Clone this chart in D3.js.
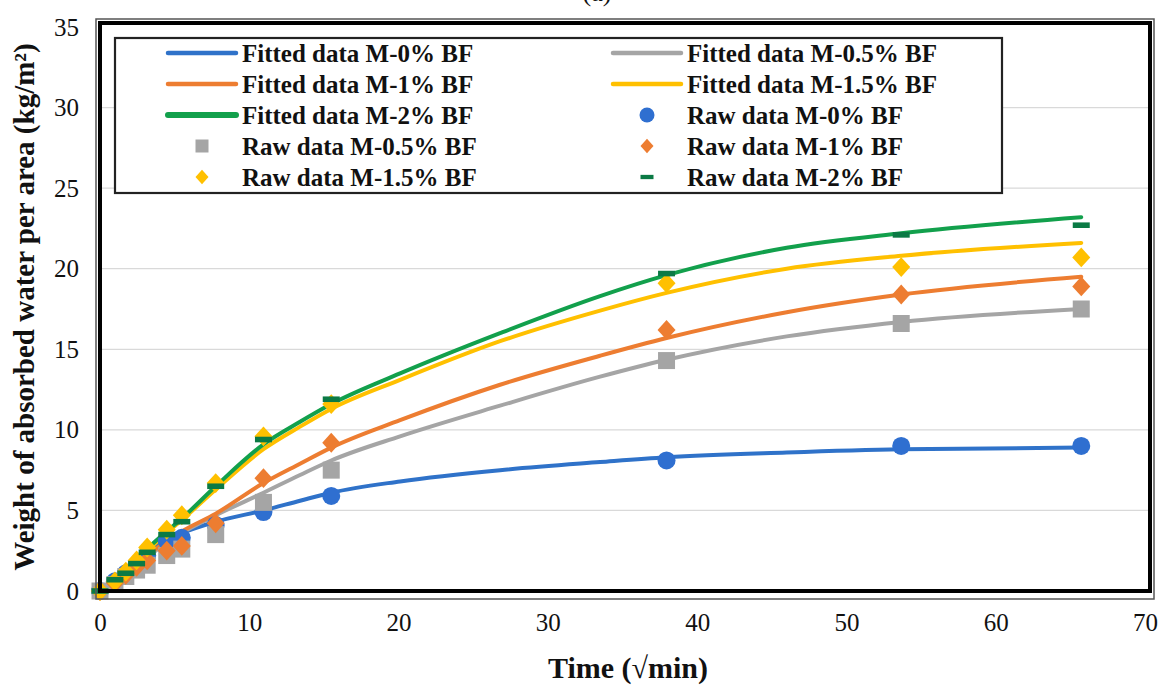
<!DOCTYPE html>
<html>
<head>
<meta charset="utf-8">
<script src="https://cdn.jsdelivr.net/npm/d3@7"></script>
<style>
  html, body { margin: 0; padding: 0; background: #fff; }
  svg { display: block; }
</style>
</head>
<body>
<svg id="chart" width="1169" height="688"></svg>
<script>
// ---- data ----
// raw measurement times (sqrt of minutes)
const timeSqrt = [0, 1, 1.73, 2.45, 3.16, 4.47, 5.48, 7.75, 10.95, 15.49, 37.95, 53.67, 65.73];
// points
const fitTime = [0, 1, 1.73, 2.45, 3.16, 4.47, 5.48, 7.75, 10.95, 13.4, 15.49, 20.1, 26.8, 33.5, 37.95, 46, 53.67, 65.73];

const fit0  = [0, 0.8, 1.4, 2.0, 2.5, 3.2, 3.6, 4.3, 5.0, 5.6, 6.1, 6.8, 7.5, 8.0, 8.3, 8.6, 8.8, 8.9];
const fit05 = [0, 0.6, 1.1, 1.6, 2.1, 3.0, 3.6, 4.7, 6.1, 7.2, 8.1, 9.6, 11.5, 13.3, 14.35, 15.8, 16.7, 17.5];
const fit1  = [0, 0.6, 1.1, 1.6, 2.2, 3.1, 3.7, 4.8, 6.7, 7.9, 8.9, 10.6, 12.8, 14.6, 15.7, 17.3, 18.4, 19.5];
const fit15 = [0, 0.7, 1.3, 1.9, 2.5, 3.6, 4.4, 6.3, 8.8, 10.2, 11.3, 13.1, 15.5, 17.4, 18.5, 20.0, 20.8, 21.6];
const fit2  = [0, 0.7, 1.3, 1.9, 2.6, 3.7, 4.5, 6.5, 9.1, 10.5, 11.6, 13.5, 16.0, 18.3, 19.6, 21.3, 22.2, 23.2];

const raw0  = [0, 0.6, 1.1, 1.6, 2.2, 3.1, 3.3, 4.1, 4.9, 5.9, 8.1, 9.0, 9.0];
const raw05 = [0, 0.4, 0.9, 1.3, 1.6, 2.2, 2.6, 3.5, 5.5, 7.5, 14.3, 16.6, 17.5];
const raw1  = [0, 0.5, 1.0, 1.5, 1.9, 2.5, 2.8, 4.2, 7.0, 9.2, 16.2, 18.4, 18.9];
const raw15 = [0, 0.6, 1.2, 1.9, 2.7, 3.8, 4.7, 6.7, 9.6, 11.6, 19.1, 20.1, 20.7];
const raw2  = [0, 0.7, 1.1, 1.7, 2.4, 3.5, 4.3, 6.5, 9.4, 11.9, 19.7, 22.1, 22.7];

const xTicks = [0, 10, 20, 30, 40, 50, 60, 70];
const yTicks = [0, 5, 10, 15, 20, 25, 30, 35];

const fittedNames = ["Fitted data M-0% BF", "Fitted data M-0.5% BF", "Fitted data M-1% BF", "Fitted data M-1.5% BF", "Fitted data M-2% BF"];
const rawNames = ["Raw data M-0% BF", "Raw data M-0.5% BF", "Raw data M-1% BF", "Raw data M-1.5% BF", "Raw data M-2% BF"];
const xTitle = "Time (\u221Amin)";
const yTitle = "Weight of absorbed water per area (kg/m\u00B2)";
const chartTitle = "(a)";

// ---- styles ----
const lineColors = ["#2f72c9", "#a5a5a5", "#ed7d31", "#ffc000", "#12a04c"];
const markColors = ["#2f6fd0", "#a5a5a5", "#ed7d31", "#ffc000", "#0b7a45"];
const markShapes = ["circle", "square", "diamond", "diamond", "dash"];

const fitted = [fit0, fit05, fit1, fit15, fit2];
const raw = [raw0, raw05, raw1, raw15, raw2];

const svg = d3.select("#chart");
const x = d3.scaleLinear().domain([0, 70]).range([100, 1145]);
const y = d3.scaleLinear().domain([0, 35]).range([591, 27]);
const serif = "'Liberation Serif', 'Times New Roman', serif";

// gridlines
svg.append("g").selectAll("line").data(yTicks.filter(t => t > 0 && t < 35)).join("line")
  .attr("x1", x(0)).attr("x2", x(70) + 5)
  .attr("y1", d => y(d)).attr("y2", d => y(d))
  .attr("stroke", "#d9d9d9").attr("stroke-width", 1.3);

// axes labels
const xAxis = d3.axisBottom(x).tickValues(xTicks).tickSize(0).tickPadding(0);
const gx = svg.append("g").attr("transform", `translate(0, 613)`).call(xAxis);
gx.attr("font-family", null).attr("font-size", null);
gx.select(".domain").remove();
gx.selectAll("text").style("font-family", serif).style("font-size", "25px").attr("fill", "#111").attr("dy", "0.71em");

const yAxis = d3.axisLeft(y).tickValues(yTicks).tickSize(0).tickPadding(0);
const gy = svg.append("g").attr("transform", `translate(79, 0)`).call(yAxis);
gy.attr("font-family", null).attr("font-size", null);
gy.select(".domain").remove();
gy.selectAll("text").style("font-family", serif).style("font-size", "25px").attr("fill", "#111");

// title (cut off at top, as in the reference)
svg.append("text").attr("x", 597).attr("y", 1).attr("text-anchor", "middle")
  .style("font-family", serif).style("font-size", "26px").attr("fill", "#111").text(chartTitle);

// axis titles
svg.append("text").attr("x", 628).attr("y", 678).attr("text-anchor", "middle")
  .style("font-family", serif).style("font-weight", "bold").style("font-size", "30px").attr("fill", "#111")
  .text(xTitle);
svg.append("text").attr("transform", "translate(34, 307) rotate(-90)").attr("text-anchor", "middle")
  .style("font-family", serif).style("font-weight", "bold").style("font-size", "29px").attr("fill", "#111")
  .text(yTitle);

// fitted lines (smooth)
const lineGen = d3.line().x((d, i) => x(fitTime[i])).y(d => y(d)).curve(d3.curveMonotoneX);
svg.append("g").selectAll("path").data(fitted).join("path")
  .attr("d", d => lineGen(d))
  .attr("fill", "none")
  .attr("stroke", (d, i) => lineColors[i])
  .attr("stroke-width", 4)
  .attr("stroke-linejoin", "round").attr("stroke-linecap", "round");

// markers
function markerPath(shape, s) {
  if (shape === "circle") return d3.symbol().type(d3.symbolCircle).size(Math.PI * s * s)();
  if (shape === "square") return `M${-s},${-s}H${s}V${s}H${-s}Z`;
  if (shape === "diamond") return `M0,${-s * 1.1}L${s},0L0,${s * 1.1}L${-s},0Z`;
  return `M${-s},${-s * 0.33}H${s}V${s * 0.33}H${-s}Z`;
}
const markSize = [9, 8.5, 9, 9, 8.5];
raw.forEach((series, si) => {
  svg.append("g").selectAll("path").data(series).join("path")
    .attr("transform", (d, i) => `translate(${x(timeSqrt[i])},${y(d)})`)
    .attr("d", markerPath(markShapes[si], markSize[si]))
    .attr("fill", markColors[si]);
});

// plot frame (double line)
svg.append("rect").attr("x", x(0)).attr("y", y(35) - 4).attr("width", x(70) + 5 - x(0)).attr("height", y(0) - y(35) + 4)
  .attr("fill", "none").attr("stroke", "#000").attr("stroke-width", 4);
svg.append("rect").attr("x", x(0) - 4).attr("y", y(35) - 8).attr("width", x(70) + 13 - x(0)).attr("height", y(0) - y(35) + 16)
  .attr("fill", "none").attr("stroke", "#555").attr("stroke-width", 1.5);

// legend
const lg = svg.append("g");
lg.append("rect").attr("x", 115).attr("y", 38).attr("width", 887).attr("height", 155)
  .attr("fill", "#fff").attr("stroke", "#222").attr("stroke-width", 2.2);
const entries = [];
fittedNames.forEach((n, i) => entries.push({ name: n, type: "line", idx: i }));
rawNames.forEach((n, i) => entries.push({ name: n, type: "mark", idx: i }));
const colX = [168, 613];
const rowY = [53, 84, 115, 146, 177];
entries.forEach((e, k) => {
  const cx = colX[k % 2], cy = rowY[Math.floor(k / 2)];
  if (e.type === "line") {
    lg.append("line").attr("x1", cx).attr("x2", cx + 68).attr("y1", cy).attr("y2", cy)
      .attr("stroke", lineColors[e.idx]).attr("stroke-width", e.idx === 4 ? 6 : 4.5).attr("stroke-linecap", "round");
  } else {
    lg.append("path").attr("transform", `translate(${cx + 34},${cy})`)
      .attr("d", markerPath(markShapes[e.idx], e.idx === 0 ? 7.5 : 6.5)).attr("fill", markColors[e.idx]);
  }
  lg.append("text").attr("x", cx + 74).attr("y", cy).attr("dy", "0.35em")
    .style("font-family", serif).style("font-weight", "bold").style("font-size", "25px").attr("fill", "#111")
    .text(e.name);
});
</script>
</body>
</html>
